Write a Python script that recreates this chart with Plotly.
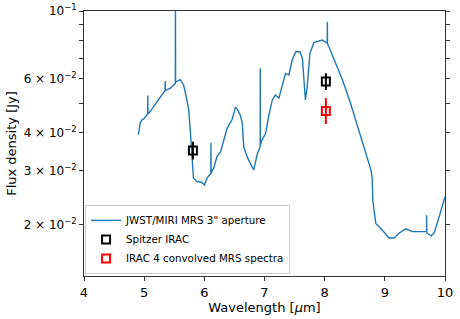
import plotly.graph_objects as go
import math

wavelength = [4.905, 4.933, 4.96, 5.00, 5.045, 5.058, 5.06, 5.062, 5.10, 5.21, 5.30, 5.348, 5.35, 5.352,
              5.43, 5.518, 5.52, 5.522, 5.60, 5.655, 5.71, 5.74, 5.77, 5.79, 5.82, 5.88, 5.96, 6.00, 6.045,
              6.108, 6.11, 6.112, 6.155, 6.21, 6.27, 6.32, 6.38, 6.46, 6.52, 6.555, 6.60, 6.63, 6.655, 6.71,
              6.77, 6.82, 6.88, 6.928, 6.93, 6.932, 6.96, 7.02, 7.07, 7.13, 7.18, 7.24, 7.29, 7.35, 7.405,
              7.46, 7.52, 7.59, 7.63, 7.655, 7.68, 7.71, 7.755, 7.82, 7.96, 8.043, 8.045, 8.047, 8.07, 8.155,
              8.295, 8.43, 8.57, 8.68, 8.77, 8.79, 8.80, 8.85, 8.96, 9.07, 9.155, 9.24, 9.35, 9.46, 9.655,
              9.693, 9.695, 9.697, 9.77, 9.82, 9.905, 10.0]
flux = [0.0394, 0.0430, 0.0440, 0.0445, 0.0457, 0.0460, 0.0529, 0.0460, 0.0470, 0.0506, 0.0535, 0.0550, 0.0590, 0.0550,
        0.0558, 0.0580, 0.11, 0.0585, 0.0596, 0.0573, 0.0512, 0.0475, 0.0398, 0.0334, 0.0284, 0.0277, 0.0275, 0.0270, 0.0284,
        0.0295, 0.0371, 0.0295, 0.0306, 0.0334, 0.0347, 0.0379, 0.0414, 0.0441, 0.0485, 0.0475, 0.0455, 0.0430, 0.0360, 0.0334,
        0.0318, 0.0302, 0.0340, 0.0360, 0.065, 0.0365, 0.0379, 0.0398, 0.0455, 0.0512, 0.0531, 0.0519, 0.0566, 0.0625, 0.0618,
        0.0692, 0.0736, 0.0736, 0.0700, 0.0580, 0.0512, 0.0566, 0.0727, 0.0788, 0.0804, 0.0785, 0.0923, 0.0780, 0.0764, 0.0692,
        0.0596, 0.0499, 0.0408, 0.0343, 0.0302, 0.0285, 0.0240, 0.0202, 0.0192, 0.0181, 0.0181, 0.0188, 0.0194, 0.0190, 0.0190,
        0.0190, 0.0215, 0.0188, 0.0184, 0.0188, 0.0213, 0.0247]

irac_wl = [5.81, 8.02]
irac_flux = [0.0350, 0.0588]
irac_err_up = [0.0024, 0.0038]
irac_err_dn = [0.0023, 0.0036]

conv_wl = [8.02]
conv_flux = [0.0471]
conv_err_up = [0.0048]
conv_err_dn = [0.0044]

ytick_vals = [0.02, 0.03, 0.04, 0.05, 0.06, 0.07, 0.08, 0.09, 0.1]
ytick_text = ["2 × 10<sup>−2</sup>", "3 × 10<sup>−2</sup>", "4 × 10<sup>−2</sup>", "", "6 × 10<sup>−2</sup>",
              "", "", "", "10<sup>−1</sup>"]

fig = go.Figure()
fig.add_trace(go.Scatter(x=wavelength, y=flux, mode="lines", name='JWST/MIRI MRS 3" aperture',
                         line=dict(color="#1f77b4", width=1.4)))
fig.add_trace(go.Scatter(x=irac_wl, y=irac_flux, mode="markers", name="Spitzer IRAC",
                         marker=dict(symbol="square-open", size=8, color="black", line=dict(width=2, color="black")),
                         error_y=dict(type="data", array=irac_err_up, arrayminus=irac_err_dn, color="black",
                                      thickness=2, width=0)))
fig.add_trace(go.Scatter(x=conv_wl, y=conv_flux, mode="markers", name="IRAC 4 convolved MRS spectra",
                         marker=dict(symbol="square-open", size=8, color="red", line=dict(width=2, color="red")),
                         error_y=dict(type="data", array=conv_err_up, arrayminus=conv_err_dn, color="red",
                                      thickness=2, width=0)))

fig.update_layout(
    width=460, height=319,
    margin=dict(l=84, r=15, t=11, b=43),
    paper_bgcolor="white", plot_bgcolor="white",
    font=dict(family="DejaVu Sans", size=12, color="black"),
    showlegend=True,
    legend=dict(x=0.003, y=0.008, xanchor="left", yanchor="bottom",
                bgcolor="rgba(255,255,255,0.8)", bordercolor="#cccccc", borderwidth=1,
                font=dict(size=10.3), tracegroupgap=0, itemwidth=30),
    xaxis=dict(range=[4, 10], tickvals=[4, 5, 6, 7, 8, 9, 10], showgrid=False, zeroline=False,
               showline=True, linecolor="#333333", linewidth=1, mirror=True, automargin=False,
               ticks="outside", ticklen=4, tickcolor="#333333", tickfont=dict(size=13),
               title=dict(text="Wavelength [<i>μ</i>m]", font=dict(size=13), standoff=0)),
    yaxis=dict(type="log", range=[math.log10(0.0136), -1], tickvals=ytick_vals, ticktext=ytick_text,
               showgrid=False, zeroline=False, showline=True, linecolor="#333333", linewidth=1,
               mirror="ticks", ticks="outside", ticklen=4, tickcolor="#333333", tickfont=dict(size=12),
               automargin=False,
               title=dict(text="Flux density [Jy]", font=dict(size=13), standoff=4)),
)

fig.write_html("out.html", config={"displayModeBar": False},
               post_script="document.body.style.margin='0';document.body.style.padding='0';")
